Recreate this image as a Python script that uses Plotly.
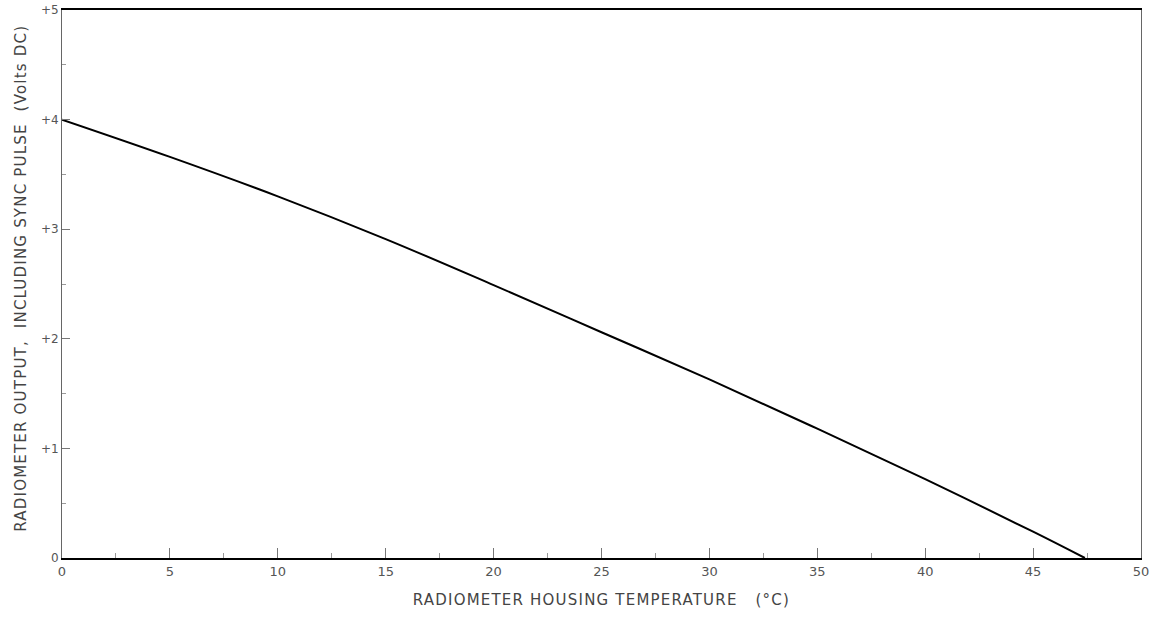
import plotly.graph_objects as go

temperature_c = [0, 5, 10, 15, 20, 25, 30, 35, 40, 45, 47.4]
output_volts = [4.00, 3.66, 3.30, 2.91, 2.49, 2.06, 1.63, 1.18, 0.72, 0.24, 0.0]

x_tick_vals = [0, 5, 10, 15, 20, 25, 30, 35, 40, 45, 50]
x_tick_text = ["0", "5", "10", "15", "20", "25", "30", "35", "40", "45", "50"]
y_tick_vals = [0, 1, 2, 3, 4, 5]
y_tick_text = ["0", "+1", "+2", "+3", "+4", "+5"]

x_title = "RADIOMETER HOUSING TEMPERATURE   (°C)"
y_title = "RADIOMETER OUTPUT,  INCLUDING SYNC PULSE  (Volts DC)"

fig = go.Figure()
fig.add_trace(go.Scatter(
    x=temperature_c, y=output_volts, mode="lines",
    line=dict(color="black", width=2, shape="spline", smoothing=1.0),
    showlegend=False, cliponaxis=False, hoverinfo="skip",
))

title_font = dict(family="DejaVu Sans, sans-serif", size=15, color="#444444")

fig.update_layout(
    width=1159, height=617,
    margin=dict(l=62, r=18, t=10, b=59),
    paper_bgcolor="white", plot_bgcolor="white",
    font=dict(family="DejaVu Sans, sans-serif", size=13, color="#555555"),
    xaxis=dict(
        range=[0, 50], tickvals=x_tick_vals, ticktext=x_tick_text, automargin=False,
        showgrid=False, zeroline=False, showline=True, linecolor="black", linewidth=2,
        mirror=True, ticks="inside", ticklen=10, tickcolor="#777777", tickwidth=1,
        minor=dict(dtick=2.5, ticks="inside", ticklen=5, tickcolor="#999999"),
        tickfont=dict(size=13, color="#555555"),
    ),
    yaxis=dict(
        range=[0, 5], tickvals=y_tick_vals, ticktext=y_tick_text, automargin=False,
        showgrid=False, zeroline=False, showline=True, linecolor="#666666", linewidth=1,
        mirror=True, ticks="inside", ticklen=8, tickcolor="#777777", tickwidth=1,
        minor=dict(dtick=0.5, ticks="inside", ticklen=4, tickcolor="#999999"),
        tickfont=dict(size=12, color="#555555"),
    ),
    annotations=[
        dict(text=x_title, xref="paper", yref="paper", x=0.5, y=0,
             xanchor="center", yanchor="middle", yshift=-42, showarrow=False,
             font=title_font),
        dict(text=y_title, xref="paper", yref="paper", x=0, y=0.51,
             xanchor="center", yanchor="middle", xshift=-41, textangle=-90,
             showarrow=False, font=title_font),
    ],
)

post = (
    "document.body.style.margin='0';"
    "document.querySelectorAll('.annotation-text').forEach(function(t){"
    "t.style.letterSpacing='1.2px';});"
)
fig.write_html("out.html", post_script=post, config={"displayModeBar": False})
